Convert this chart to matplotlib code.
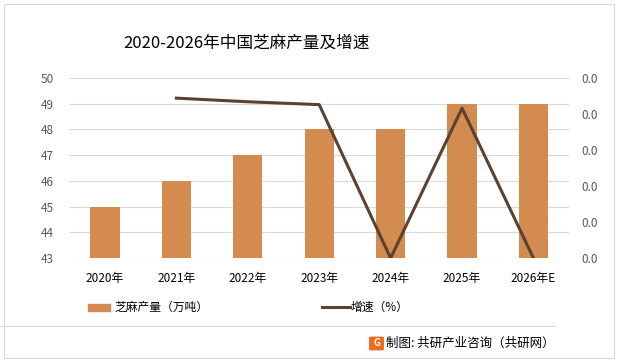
import numpy as np
import matplotlib
matplotlib.use('Agg')
import matplotlib.pyplot as plt
from matplotlib.patches import FancyBboxPatch, Rectangle
from matplotlib.lines import Line2D
from matplotlib.ticker import FormatStrFormatter

plt.rcParams['font.family'] = ['Noto Sans CJK SC', 'DejaVu Sans']

years = ['2020年', '2021年', '2022年', '2023年', '2024年', '2025年', '2026年E']
output = [45, 46, 47, 48, 48, 49, 49]              # 万吨
growth = [np.nan, 0.0222, 0.0217, 0.0213, 0.0, 0.0208, 0.0]

bar_color = '#D38B4F'
line_color = '#5B4130'
grid_color = '#D9D9D9'
tick_color = '#595959'

fig = plt.figure(figsize=(6.18, 3.61), dpi=100)
ax = fig.add_axes([0.112, 0.285, 0.809, 0.499])
x = np.arange(len(years))
ax.bar(x, output, width=0.41, color=bar_color, zorder=2)
ax.set_ylim(43, 50)
ax.set_yticks(range(43, 51))
ax.set_xlim(-0.5, len(years) - 0.5)
ax.set_xticks(x)
ax.set_xticklabels(years, fontsize=8.5, color='black')
ax.grid(axis='y', color=grid_color, lw=0.8, zorder=0)
for s in ax.spines.values():
    s.set_visible(False)
ax.tick_params(axis='both', length=0, labelsize=8.5, labelcolor=tick_color)
ax.tick_params(axis='x', pad=10, labelcolor='black')
ax.tick_params(axis='y', pad=11)

ax2 = ax.twinx()
ax2.plot(x, growth, color=line_color, lw=2.2, zorder=3)
ax2.set_ylim(0, 0.025)
ax2.set_yticks(np.arange(0, 0.0251, 0.005))
ax2.yaxis.set_major_formatter(FormatStrFormatter('%.1f'))
for s in ax2.spines.values():
    s.set_visible(False)
ax2.tick_params(axis='y', length=0, labelsize=8.5, labelcolor=tick_color, pad=9)

fig.text(0.399, 0.879, '2020-2026年中国芝麻产量及增速', fontsize=12,
         ha='center', va='center', color='black')

# legend
fig.patches.append(Rectangle((88 / 618, 1 - 311 / 361), 22 / 618, 7 / 361,
                             transform=fig.transFigure, color=bar_color))
fig.text(114 / 618, 1 - 307 / 361, '芝麻产量（万吨）', fontsize=8.5, va='center')
fig.lines.append(Line2D([322 / 618, 350 / 618], [1 - 307 / 361, 1 - 307 / 361],
                        transform=fig.transFigure, color=line_color, lw=2.2))
fig.text(351 / 618, 1 - 307 / 361, '增速（%）', fontsize=8.5, va='center')

# separator and source
fig.lines.append(Line2D([0.0, 555 / 618], [1 - 326 / 361, 1 - 326 / 361],
                        transform=fig.transFigure, color=grid_color, lw=0.8))
fig.patches.append(FancyBboxPatch((371 / 618, 1 - 349 / 361), 11 / 618, 11 / 361,
                                  boxstyle='round,pad=0.002', transform=fig.transFigure,
                                  color='#EE6A1F'))
fig.text(376.5 / 618, 1 - 343.5 / 361, 'G', fontsize=7, color='white',
         ha='center', va='center', fontweight='bold')
fig.text(386 / 618, 1 - 343 / 361, '制图: 共研产业咨询（共研网）', fontsize=9, va='center')

# outer frame
fig.patches.append(Rectangle((4 / 618, 3 / 361), 610 / 618, 354 / 361,
                             transform=fig.transFigure, fill=False,
                             edgecolor='#D9D9D9', lw=0.8))

fig.savefig('out.png', dpi=100)
